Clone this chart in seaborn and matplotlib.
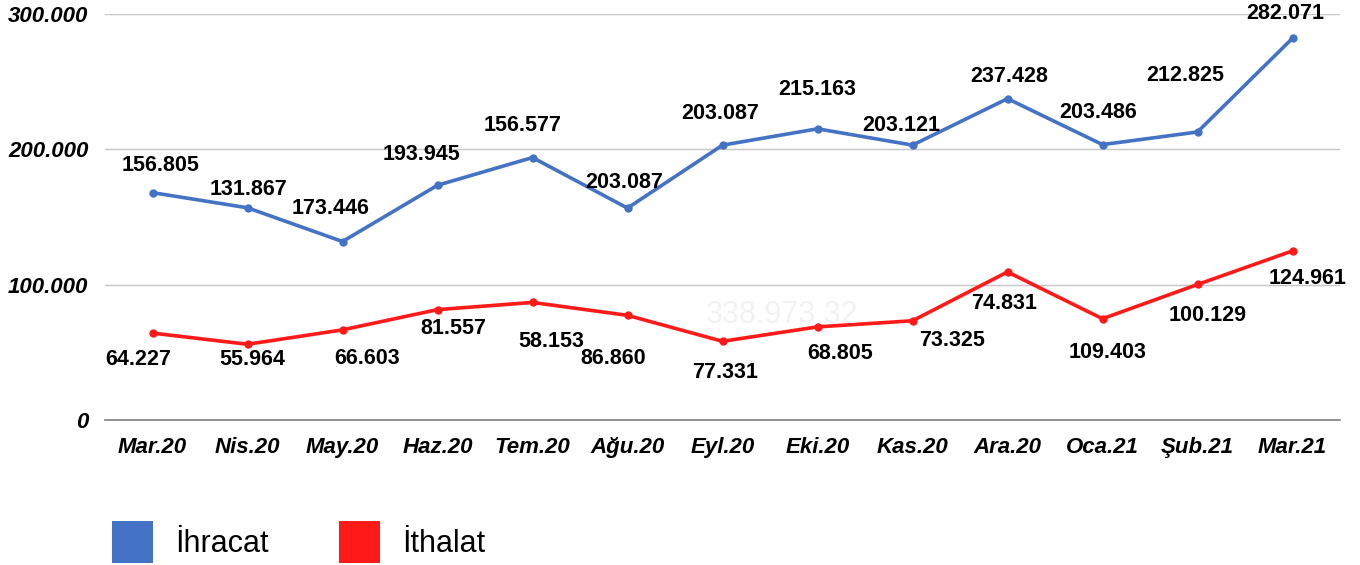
import pandas as pd
import seaborn as sns
import matplotlib.pyplot as plt
from matplotlib.patches import Patch
from matplotlib.ticker import FuncFormatter

months = ['Mar.20', 'Nis.20', 'May.20', 'Haz.20', 'Tem.20', 'Ağu.20', 'Eyl.20',
          'Eki.20', 'Kas.20', 'Ara.20', 'Oca.21', 'Şub.21', 'Mar.21']
ihracat = [168000, 156805, 131867, 173446, 193945, 156577, 203087,
           215163, 203121, 237428, 203486, 212825, 282071]
ithalat = [64227, 55964, 66603, 81557, 86860, 77331, 58153,
           68805, 73325, 109403, 74831, 100129, 124961]
ihracat_labels = ['156.805', '131.867', '173.446', '193.945', '156.577', '203.087', '203.087',
                  '215.163', '203.121', '237.428', '203.486', '212.825', '282.071']
ithalat_labels = ['64.227', '55.964', '66.603', '81.557', '58.153', '86.860', '77.331',
                  '68.805', '73.325', '74.831', '109.403', '100.129', '124.961']

# label offsets in pixels (dx, dy)
ihr_off = [(8, 27), (1, 18), (-12, 33), (-16, 31), (-10, 32), (-3, 26), (-2, 32),
           (0, 39), (-11, 20), (2, 22), (-4, 32), (-12, 56), (-7, 25)]
ith_off = [(-14, -26), (5, -15), (25, -29), (16, -19), (19, -39), (-14, -43), (3, -31),
           (23, -27), (40, -20), (-3, -32), (5, -34), (10, -31), (15, -28)]

blue = '#4472C4'
red = '#FF1A1A'

sns.set_style('white')
plt.rcParams['font.family'] = ['Liberation Sans', 'DejaVu Sans']

df = pd.DataFrame({
    'Ay': months * 2,
    'Deger': ihracat + ithalat,
    'Seri': ['İhracat'] * len(months) + ['İthalat'] * len(months),
})

fig = plt.figure(figsize=(13.6, 5.65), dpi=100)
ax = fig.add_axes([105 / 1360, 1 - 420 / 565, 1235 / 1360, 406 / 565])
sns.lineplot(data=df, x='Ay', y='Deger', hue='Seri', palette=[blue, red], sort=False,
             marker='o', markersize=6, markeredgewidth=0, linewidth=2.6, ax=ax, legend=False)

ax.set_xlim(-0.5, len(months) - 0.5)
ax.set_ylim(0, 300000)
ax.set_yticks([0, 100000, 200000, 300000])
ax.yaxis.set_major_formatter(FuncFormatter(lambda v, p: f'{int(v):,}'.replace(',', '.')))
ax.grid(axis='y', color='#C6C6C6', linewidth=1)
ax.grid(axis='x', visible=False)
for s in ['top', 'right', 'left']:
    ax.spines[s].set_visible(False)
ax.spines['bottom'].set_color('#7F7F7F')
ax.spines['bottom'].set_linewidth(1.2)
ax.tick_params(axis='both', length=0, pad=12, labelsize=16, labelcolor='black')
for t in ax.get_xticklabels() + ax.get_yticklabels():
    t.set_fontweight('bold')
    t.set_fontstyle('italic')
ax.set_xlabel('')
ax.set_ylabel('')

for i, (v, lab) in enumerate(zip(ihracat, ihracat_labels)):
    ax.annotate(lab, (i, v), xytext=ihr_off[i], textcoords='offset pixels',
                ha='center', va='center', fontsize=15.5, fontweight='bold', color='black')
for i, (v, lab) in enumerate(zip(ithalat, ithalat_labels)):
    ax.annotate(lab, (i, v), xytext=ith_off[i], textcoords='offset pixels',
                ha='center', va='center', fontsize=15.5, fontweight='bold', color='black')

fig.text(782 / 1360, 1 - 315 / 565, '338.973.32', ha='center', va='center',
         fontsize=22, color='#F2F2F2')

handles = [Patch(facecolor=blue, edgecolor='none'), Patch(facecolor=red, edgecolor='none')]
fig.legend(handles, ['İhracat', 'İthalat'], loc='lower left', ncol=2, frameon=False,
           bbox_to_anchor=(112 / 1360, 2 / 565), prop={'size': 22}, labelcolor='black',
           handlelength=1.35, handleheight=1.72, handletextpad=0.72, columnspacing=2.3,
           borderpad=0, borderaxespad=0)

fig.savefig('out.png', dpi=100)
